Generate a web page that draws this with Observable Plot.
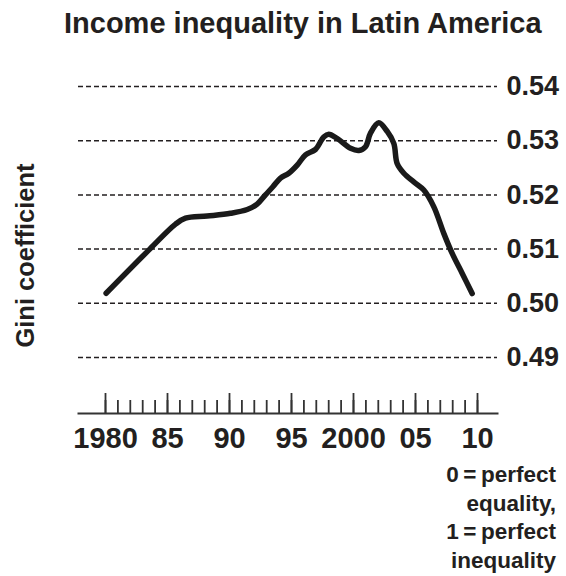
<!DOCTYPE html>
<html>
<head>
<meta charset="utf-8">
<script src="https://cdn.jsdelivr.net/npm/d3@7"></script>
<script src="https://cdn.jsdelivr.net/npm/@observablehq/plot@0.6"></script>
<style>
  html, body { margin: 0; padding: 0; background: #fff; }
  body { width: 566px; font-family: "Liberation Sans", Arial, sans-serif; color: #231f20; }
  #title { height: 46px; line-height: 46px; font-size: 29px; font-weight: bold; padding-left: 64px; white-space: nowrap; }
  #chart svg { display: block; }
  #note { text-align: right; padding-right: 10px; font-size: 22.5px; font-weight: bold; line-height: 28.5px; margin-top: 0px; }
</style>
</head>
<body>
<div id="title"></div>
<div id="chart"></div>
<div id="note"></div>
<script>
// ---- data ----
const titleText = "Income inequality in Latin America";
const yAxisTitle = "Gini coefficient";
const noteLines = ["0\u2009=\u2009perfect", "equality,", "1\u2009=\u2009perfect", "inequality"];

const years = [1980.05, 1983.57, 1985.65, 1986.45, 1988.2, 1990.08, 1991.43, 1992.23, 1992.9, 1993.5,
  1994.11, 1994.78, 1995.46, 1996.13, 1996.94, 1997.6, 1998.0, 1998.69, 1999.76, 2000.43,
  2000.97, 2001.37, 2002.04, 2002.72, 2003.25, 2003.52, 2004.06, 2004.86, 2005.67, 2006.48,
  2007.28, 2007.96, 2008.77, 2009.57];
const gini = [0.50185, 0.5100, 0.5146, 0.5157, 0.5161, 0.5166, 0.5173, 0.5183, 0.5200, 0.5215,
  0.5231, 0.5240, 0.5255, 0.5274, 0.5284, 0.5307, 0.5312, 0.5304, 0.5286, 0.5282,
  0.5289, 0.5314, 0.5333, 0.5317, 0.5295, 0.5258, 0.5240, 0.5224, 0.5209, 0.5178,
  0.5129, 0.5092, 0.5055, 0.5018];

const gridValues = [0.49, 0.50, 0.51, 0.52, 0.53, 0.54];
const gridLabels = ["0.49", "0.50", "0.51", "0.52", "0.53", "0.54"];
const minorYears = [1980, 1981, 1982, 1983, 1984, 1985, 1986, 1987, 1988, 1989, 1990, 1991, 1992, 1993, 1994,
  1995, 1996, 1997, 1998, 1999, 2000, 2001, 2002, 2003, 2004, 2005, 2006, 2007, 2008, 2009, 2010];
const majorYears = [1980, 1985, 1990, 1995, 2000, 2005, 2010];
const majorLabels = ["1980", "85", "90", "95", "2000", "05", "10"];

// ---- build ----
document.getElementById("title").textContent = titleText;
document.getElementById("note").innerHTML = noteLines.map(s => `<div>${s}</div>`).join("");

const data = years.map((year, i) => ({year, gini: gini[i]}));
const xLabel = new Map(majorYears.map((y, i) => [y, majorLabels[i]]));
const yLabel = new Map(gridValues.map((v, i) => [v, gridLabels[i]]));
const ink = "#231f20";

const chart = Plot.plot({
  width: 566,
  height: 415,
  marginLeft: 78,
  marginRight: 69,
  marginTop: 51,
  marginBottom: 48,
  x: {domain: [1980, 2010], range: [105, 477]},
  y: {domain: [0.49, 0.54], range: [311, 40]},
  style: {fontFamily: "'Liberation Sans', Arial, sans-serif", color: ink, background: "#fff", overflow: "visible"},
  marks: [
    Plot.ruleY(gridValues, {stroke: ink, strokeWidth: 1.5, strokeDasharray: "5,3"}),
    Plot.frame({anchor: "bottom", stroke: "#333", strokeWidth: 2}),
    Plot.axisX({ticks: minorYears, tickSize: -13, tickFormat: () => "", label: null, stroke: "#333", strokeWidth: 1.8}),
    Plot.axisX({ticks: majorYears, tickSize: -20, tickFormat: () => "", label: null, stroke: "#333", strokeWidth: 1.8}),
    Plot.axisX({ticks: majorYears, tickSize: 0, tickPadding: 14, tickFormat: d => xLabel.get(d), label: null,
      fontSize: 29, fontWeight: "bold"}),
    Plot.axisY({anchor: "right", ticks: gridValues, tickSize: 0, tickPadding: 9, tickFormat: d => yLabel.get(d),
      label: null, fontSize: 27, fontWeight: "bold"}),
    Plot.text([yAxisTitle], {text: d => d, frameAnchor: "left", textAnchor: "middle", lineAnchor: "middle",
      dx: -53, rotate: -90, fontSize: 25.5, fontWeight: "bold", fill: ink}),
    Plot.line(data, {x: "year", y: "gini", stroke: "#1a1a1a", strokeWidth: 5.5, curve: "catmull-rom",
      strokeLinecap: "round", strokeLinejoin: "round"})
  ]
});
document.getElementById("chart").appendChild(chart);
</script>
</body>
</html>
